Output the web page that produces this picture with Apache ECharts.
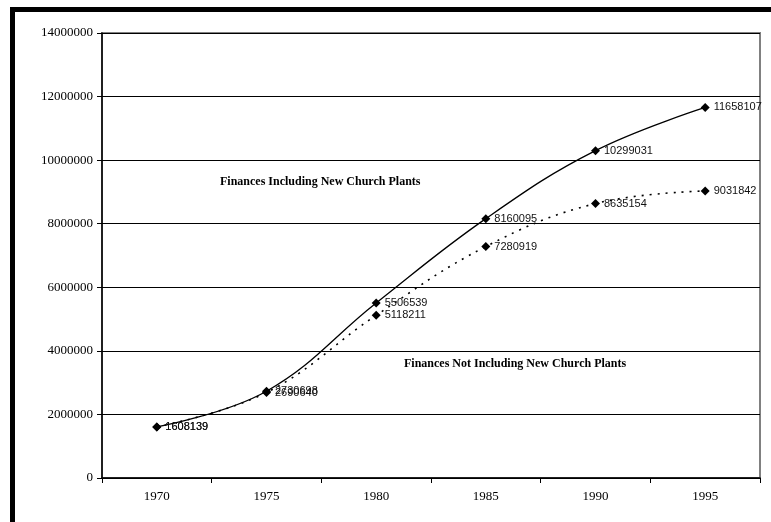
<!DOCTYPE html>
<html><head><meta charset="utf-8">
<script src="https://cdn.jsdelivr.net/npm/echarts@6/dist/echarts.min.js"></script>
<style>html,body{margin:0;padding:0;background:#fff}#c{width:771px;height:522px}</style>
</head><body><div id="c"></div>
<script>
var years = ['1970','1975','1980','1985','1990','1995'];
var including = [1608139, 2730698, 5506539, 8160095, 10299031, 11658107];
var notIncluding = [1608139, 2690640, 5118211, 7280919, 8635154, 9031842];
var yTicks = {min: 0, max: 14000000, interval: 2000000};

var chart = echarts.init(document.getElementById('c'), null, {renderer: 'canvas'});
var lbl = {show: true, position: 'right', distance: 4, color: '#111', fontFamily: 'Liberation Sans, Arial, sans-serif', fontSize: 11};
chart.setOption({
  animation: false,
  backgroundColor: '#fff',
  grid: {left: 102, right: 11, top: 33, bottom: 44, show: true, borderColor: '#808080', borderWidth: 2},
  xAxis: {
    type: 'category', data: years, boundaryGap: true,
    axisLine: {lineStyle: {color: '#000', width: 1.5}},
    axisTick: {show: true, length: 5, lineStyle: {color: '#000'}},
    axisLabel: {color: '#000', fontFamily: 'Liberation Serif, Times New Roman, serif', fontSize: 13, margin: 12},
    splitLine: {show: false}
  },
  yAxis: {
    type: 'value', min: yTicks.min, max: yTicks.max, interval: yTicks.interval,
    axisLine: {show: true, lineStyle: {color: '#000', width: 1.5}},
    axisTick: {show: true, length: 5, lineStyle: {color: '#000'}},
    axisLabel: {color: '#000', fontFamily: 'Liberation Serif, Times New Roman, serif', fontSize: 13, margin: 9,
      formatter: function (v) { return String(v); }},
    splitLine: {show: true, lineStyle: {color: '#000', width: 1}}
  },
  series: [
    {name: 'Finances Including New Church Plants', type: 'line', data: including, smooth: 0.4,
     symbol: 'diamond', symbolSize: 9, itemStyle: {color: '#000'}, lineStyle: {color: '#000', width: 1.3, type: 'solid'},
     label: lbl, z: 3},
    {name: 'Finances Not Including New Church Plants', type: 'line', data: notIncluding, smooth: 0.4,
     symbol: 'diamond', symbolSize: 9, itemStyle: {color: '#000'}, lineStyle: {color: '#000', width: 1.6, type: [2, 6]},
     label: lbl, z: 2}
  ],
  graphic: [
    {type: 'rect', left: 10, top: 7, shape: {width: 5, height: 515}, style: {fill: '#000'}},
    {type: 'rect', left: 10, top: 7, shape: {width: 761, height: 5}, style: {fill: '#000'}},
    {type: 'text', left: 220, top: 176, style: {text: 'Finances Including New Church Plants', font: 'bold 12px "Liberation Serif", "Times New Roman", serif', fill: '#000'}},
    {type: 'text', left: 404, top: 358, style: {text: 'Finances Not Including New Church Plants', font: 'bold 12px "Liberation Serif", "Times New Roman", serif', fill: '#000'}}
  ]
});
</script></body></html>
